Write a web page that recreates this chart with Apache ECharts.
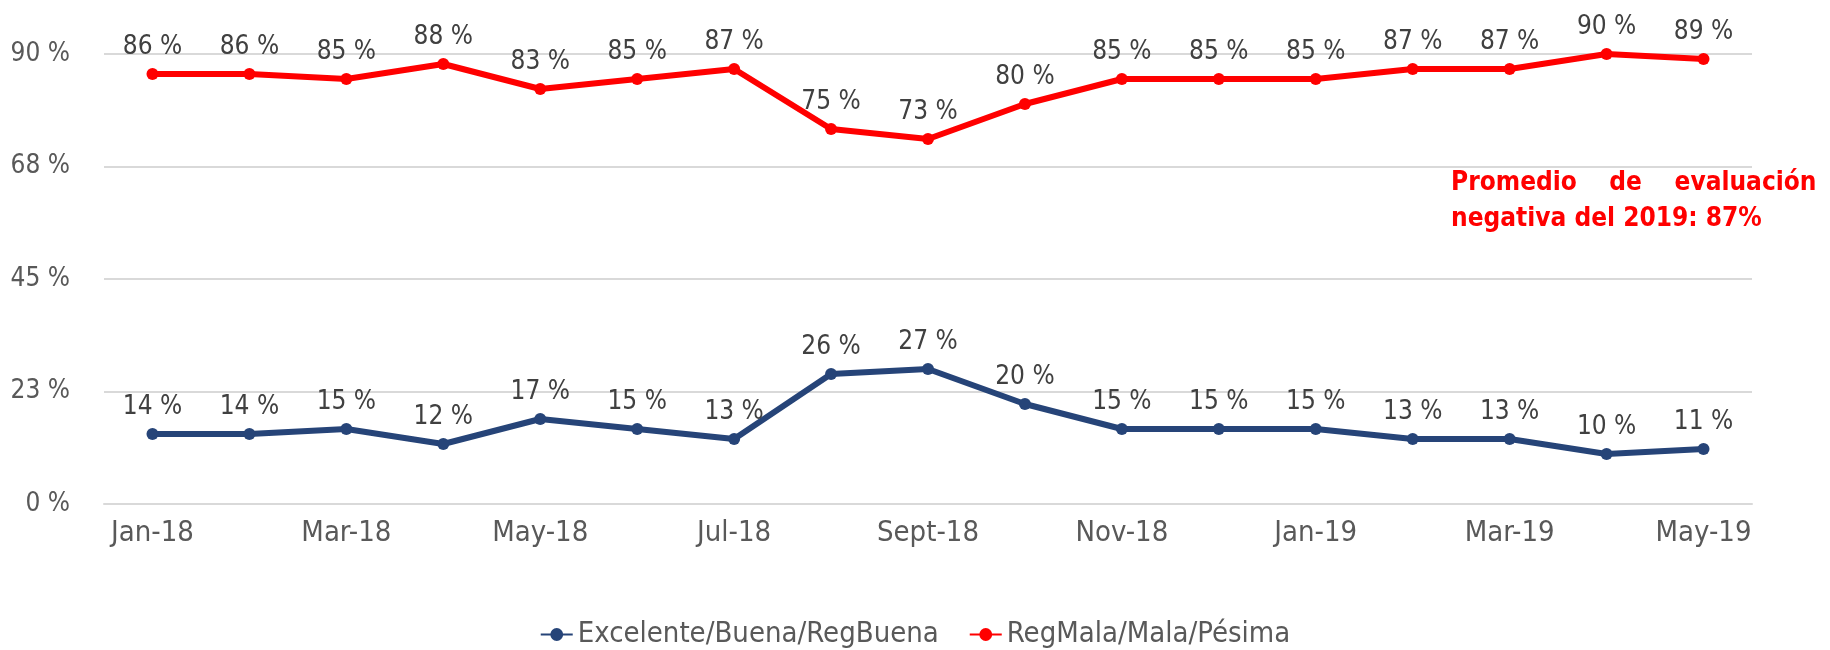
<!DOCTYPE html>
<html>
<head>
<meta charset="utf-8">
<style>
  html, body { margin: 0; padding: 0; background: #ffffff; }
  #chart { width: 1830px; height: 650px; }
</style>
<script src="https://cdn.jsdelivr.net/npm/echarts@6/dist/echarts.min.js"></script>
</head>
<body>
<div id="chart"></div>
<script>
var months = ['Jan-18', 'Feb-18', 'Mar-18', 'Apr-18', 'May-18', 'Jun-18', 'Jul-18', 'Aug-18', 'Sept-18',
  'Oct-18', 'Nov-18', 'Dec-18', 'Jan-19', 'Feb-19', 'Mar-19', 'Apr-19', 'May-19'];
var positiva = [14, 14, 15, 12, 17, 15, 13, 26, 27, 20, 15, 15, 15, 13, 13, 10, 11];
var negativa = [86, 86, 85, 88, 83, 85, 87, 75, 73, 80, 85, 85, 85, 87, 87, 90, 89];
var seriesNames = ['Excelente/Buena/RegBuena', 'RegMala/Mala/Pésima'];
var noteLines = ['Promedio    de    evaluación', 'negativa del 2019: 87%'];

(function() {
  var chartEl = document.getElementById('chart');
  var font = '"DejaVu Sans Condensed", "DejaVu Sans", sans-serif';
  var blue = '#264478';
  var red = '#ff0000';
  var grid = '#d9d9d9';
  var muted = '#595959';
  var ink = '#404040';

  function lineSeries(name, data, color) {
    return {
      name: name,
      type: 'line',
      data: data,
      symbol: 'circle',
      symbolSize: 12,
      lineStyle: { width: 6, color: color },
      itemStyle: { color: color },
      label: {
        show: true,
        position: 'top',
        distance: 8,
        color: ink,
        fontFamily: font,
        fontSize: 26,
        formatter: function(p) { return p.value + ' %'; }
      }
    };
  }

  var chart = echarts.init(chartEl, null, { renderer: 'canvas' });
  chart.setOption({
    animation: false,
    backgroundColor: '#ffffff',
    textStyle: { fontFamily: font },
    grid: { left: 104, right: 78, top: 54, bottom: 146, containLabel: false },
    legend: {
      data: seriesNames,
      top: 615,
      left: 'center',
      itemWidth: 32,
      itemHeight: 16,
      itemGap: 30,
      textStyle: { color: muted, fontFamily: font, fontSize: 29 }
    },
    xAxis: {
      type: 'category',
      data: months,
      boundaryGap: true,
      axisLine: { show: true, lineStyle: { color: grid, width: 2 } },
      axisTick: { show: false },
      axisLabel: { interval: 1, color: muted, fontFamily: font, fontSize: 29, margin: 15 }
    },
    yAxis: {
      type: 'value',
      min: 0,
      max: 90,
      interval: 22.5,
      axisLine: { show: false },
      axisTick: { show: false },
      splitLine: { lineStyle: { color: grid, width: 2 } },
      axisLabel: {
        color: muted,
        fontFamily: font,
        fontSize: 26,
        margin: 34,
        formatter: function(v) { return Math.round(v) + ' %'; }
      }
    },
    series: [
      lineSeries(seriesNames[0], positiva, blue),
      lineSeries(seriesNames[1], negativa, red)
    ],
    graphic: [
      {
        type: 'text',
        left: 1451,
        top: 170,
        style: { text: noteLines[0], fill: red, font: 'bold 26px ' + font }
      },
      {
        type: 'text',
        left: 1451,
        top: 206,
        style: { text: noteLines[1], fill: red, font: 'bold 26px ' + font }
      }
    ]
  });

  window.addEventListener('resize', function() {
    chart.resize();
  });
})();
</script>
</body>
</html>
